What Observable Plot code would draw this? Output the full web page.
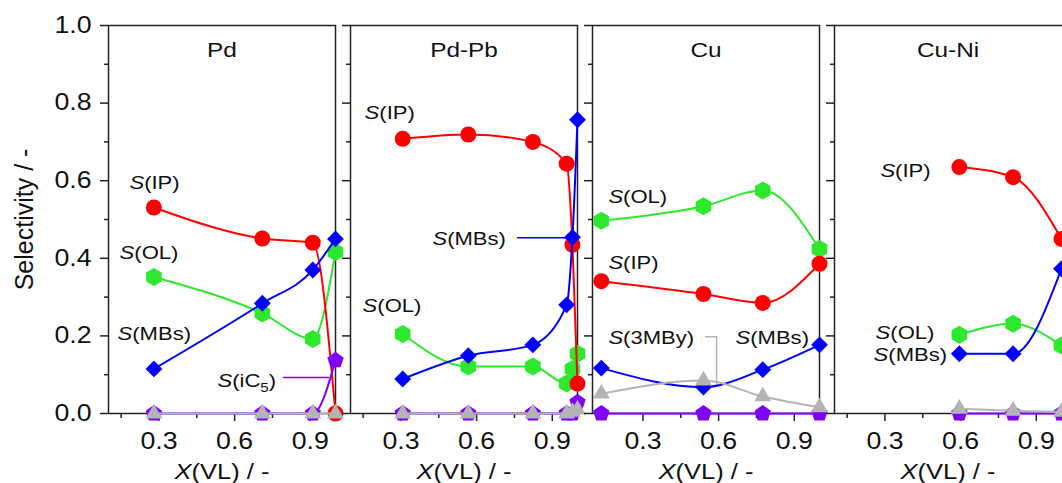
<!DOCTYPE html>
<html>
<head>
<meta charset="utf-8">
<script src="https://cdn.jsdelivr.net/npm/d3@7"></script>
<script src="https://cdn.jsdelivr.net/npm/@observablehq/plot@0.6"></script>
<style>
  html, body { margin: 0; padding: 0; background: #fff; overflow: hidden; }
  #row { display: flex; flex-direction: row; width: 1100px; }
  #row svg { display: block; flex: none; }
</style>
</head>
<body>
<div id="row"></div>
<script>
// ---------------- data ----------------
const panelNames = ["Pd", "Pd-Pb", "Cu", "Cu-Ni"];
const seriesNames = ["S(OL)", "S(IP)", "S(MBs)", "S(iC5)", "S(3MBy)"];

// X(VL) of each catalyst
const xPd   = [0.28, 0.71, 0.91, 1.0];
const xPdPb = [0.307, 0.567, 0.823, 0.957, 0.98, 1.0];
const xCu   = [0.135, 0.54, 0.775, 1.0];
const xCuNi = [0.595, 0.808, 1.0];

// Pd
const pdOL   = [0.352, 0.258, 0.192, 0.416];
const pdIP   = [0.531, 0.451, 0.440, 0.0];
const pdMBs  = [0.115, 0.284, 0.370, 0.450];
const pdIC5  = [0.0, 0.0, 0.0, 0.137];
const pd3MBy = [0.0, 0.0, 0.0, 0.0];
// Pd-Pb
const pdpbOL   = [0.205, 0.121, 0.121, 0.077, 0.115, 0.154];
const pdpbIP   = [0.708, 0.719, 0.700, 0.644, 0.435, 0.077];
const pdpbMBs  = [0.089, 0.149, 0.177, 0.280, 0.454, 0.757];
const pdpbIC5  = [0.0, 0.0, 0.0, 0.0, 0.0, 0.029];
const pdpb3MBy = [0.0, 0.0, 0.0, 0.0, 0.004, 0.010];
// Cu
const cuOL   = [0.497, 0.534, 0.575, 0.424];
const cuIP   = [0.341, 0.308, 0.285, 0.386];
const cuMBs  = [0.117, 0.068, 0.113, 0.177];
const cuIC5  = [0.0, 0.0, 0.0, 0.0];
const cu3MBy = [0.051, 0.085, 0.044, 0.016];
// Cu-Ni
const cuniOL   = [0.203, 0.231, 0.175];
const cuniIP   = [0.635, 0.609, 0.450];
const cuniMBs  = [0.154, 0.154, 0.373];
const cuniIC5  = [0.0, 0.0, 0.0];
const cuni3MBy = [0.012, 0.007, 0.004];

// axis ticks
const yMajor = [0, 0.2, 0.4, 0.6, 0.8, 1.0];
const yMinor = [0.1, 0.3, 0.5, 0.7, 0.9];
const xMajor = [0.3, 0.6, 0.9];
const xMinor = [0.15, 0.45, 0.75];

// annotations (data coordinates)
const annPanel = ["Pd", "Pd", "Pd", "Pd", "Pd-Pb", "Pd-Pb", "Pd-Pb", "Cu", "Cu", "Cu", "Cu", "Cu-Ni", "Cu-Ni", "Cu-Ni"];
const annText  = ["S(IP)", "S(OL)", "S(MBs)", "S(iC5)", "S(IP)", "S(MBs)", "S(OL)", "S(OL)", "S(IP)", "S(3MBy)", "S(MBs)", "S(IP)", "S(OL)", "S(MBs)"];
const annX     = [0.183, 0.144, 0.136, 0.532, 0.156, 0.425, 0.148, 0.163, 0.163, 0.163, 0.667, 0.282, 0.263, 0.255];
const annY     = [0.595, 0.415, 0.206, 0.085, 0.776, 0.451, 0.278, 0.559, 0.389, 0.196, 0.196, 0.626, 0.209, 0.152];

// leader lines (data coordinates)
const leadId    = ["a", "a", "b", "b", "c", "c", "c"];
const leadPanel = ["Pd", "Pd", "Pd-Pb", "Pd-Pb", "Cu", "Cu", "Cu"];
const leadSer   = ["S(iC5)", "S(iC5)", "S(MBs)", "S(MBs)", "S(3MBy)", "S(3MBy)", "S(3MBy)"];
const leadX     = [0.794, 0.972, 0.762, 0.99, 0.548, 0.592, 0.592];
const leadY     = [0.093, 0.093, 0.453, 0.453, 0.198, 0.198, 0.07];

// ---------------- build tables ----------------
const panelX = {"Pd": xPd, "Pd-Pb": xPdPb, "Cu": xCu, "Cu-Ni": xCuNi};
const panelY = {
  "Pd":    [pdOL, pdIP, pdMBs, pdIC5, pd3MBy],
  "Pd-Pb": [pdpbOL, pdpbIP, pdpbMBs, pdpbIC5, pdpb3MBy],
  "Cu":    [cuOL, cuIP, cuMBs, cuIC5, cu3MBy],
  "Cu-Ni": [cuniOL, cuniIP, cuniMBs, cuniIC5, cuni3MBy]
};
const rows = [];
for (const p of panelNames) {
  panelY[p].forEach((ys, si) => {
    ys.forEach((v, k) => rows.push({panel: p, series: seriesNames[si], x: panelX[p][k], y: v}));
  });
}
const anns = annText.map((t, i) => ({panel: annPanel[i], text: t, x: annX[i], y: annY[i]}));
const leads = leadX.map((x, i) => ({id: leadId[i], panel: leadPanel[i], series: leadSer[i], x, y: leadY[i]}));

// ---------------- symbols & styles ----------------
function polygon(n, rot, scale) {
  return {
    draw(ctx, size) {
      const R = Math.sqrt(size / Math.PI) * scale;
      for (let i = 0; i < n; i++) {
        const a = rot + i * 2 * Math.PI / n;
        const px = R * Math.cos(a), py = R * Math.sin(a);
        if (i === 0) ctx.moveTo(px, py); else ctx.lineTo(px, py);
      }
      ctx.closePath();
    }
  };
}
const hexagon  = polygon(6, -Math.PI / 2, 1.0);
const pentagon = polygon(5, -Math.PI / 2, 1.0);
const triangle = polygon(3, -Math.PI / 2, 1.0);

const style = {
  "S(OL)":   {color: "#2ee82e", symbol: hexagon,   r: 9},
  "S(IP)":   {color: "#ff0000", symbol: "circle",  r: 8},
  "S(MBs)":  {color: "#0000ff", symbol: "diamond2", r: 7.6},
  "S(iC5)":  {color: "#8000ff", symbol: pentagon,  r: 8.6},
  "S(3MBy)": {color: "#b4b4b4", symbol: triangle,  r: 9.8}
};

const FONT = "Arial, 'Liberation Sans', Helvetica, sans-serif";
const SVGNS = "http://www.w3.org/2000/svg";
const STRETCH = 1.16; // horizontal text stretch of the original figure

function richText(svg) {
  svg.querySelectorAll("text").forEach(t => {
    const s = t.textContent;
    const m = /^([SX])(\(.*)$/.exec(s);
    if (!m) return;
    while (t.firstChild) t.removeChild(t.firstChild);
    const it = document.createElementNS(SVGNS, "tspan");
    it.setAttribute("font-style", "italic");
    it.textContent = m[1];
    t.appendChild(it);
    const sub = /^(.*C)(\d+)(.*)$/.exec(m[2]);
    if (sub) {
      const a = document.createElementNS(SVGNS, "tspan");
      a.textContent = sub[1];
      const b = document.createElementNS(SVGNS, "tspan");
      b.setAttribute("font-size", "13px");
      b.setAttribute("dy", "5");
      b.textContent = sub[2];
      const c = document.createElementNS(SVGNS, "tspan");
      c.setAttribute("dy", "-5");
      c.textContent = sub[3];
      t.appendChild(a); t.appendChild(b); t.appendChild(c);
    } else {
      const a = document.createElementNS(SVGNS, "tspan");
      a.textContent = m[2];
      t.appendChild(a);
    }
  });
}

function stretchText(svg) {
  svg.querySelectorAll("text").forEach(t => {
    if ((t.getAttribute("transform") || "").includes("rotate")) return;
    if ((t.parentNode.getAttribute("transform") || "").includes("rotate")) return;
    const len = t.getComputedTextLength();
    if (len > 0) {
      t.setAttribute("textLength", (len * STRETCH).toFixed(2));
      t.setAttribute("lengthAdjust", "spacingAndGlyphs");
    }
  });
}

// ---------------- plots ----------------
const row = document.getElementById("row");
panelNames.forEach((p, i) => {
  const first = i === 0, last = i === panelNames.length - 1;
  const ml = first ? 108 : 15;
  const marks = [];
  if (last) {
    marks.push(Plot.frame({anchor: "top", stroke: "#222", strokeWidth: 1.5}));
    marks.push(Plot.frame({anchor: "left", stroke: "#222", strokeWidth: 1.5}));
    marks.push(Plot.frame({anchor: "bottom", stroke: "#222", strokeWidth: 1.5}));
  } else {
    marks.push(Plot.frame({stroke: "#222", strokeWidth: 1.5}));
  }
  marks.push(
    Plot.axisY({ticks: yMajor, tickSize: 8, tickPadding: 9, strokeWidth: 1.5, stroke: "#222",
                label: null, tickFormat: ".1f", fontSize: 23, fill: first ? "#111" : "none"}),
    Plot.axisY({ticks: yMinor, tickSize: 4, strokeWidth: 1.5, stroke: "#222", label: null, fill: "none"}),
    Plot.axisX({ticks: xMajor, tickSize: 8, tickPadding: 11, strokeWidth: 1.5, stroke: "#222",
                label: null, tickFormat: ".1f", fontSize: 23, fill: "#111"}),
    Plot.axisX({ticks: xMinor, tickSize: 5, strokeWidth: 1.5, stroke: "#222", label: null, fill: "none"})
  );
  // leader lines
  for (const id of ["a", "b", "c"]) {
    const seg = leads.filter(d => d.panel === p && d.id === id);
    if (seg.length) marks.push(Plot.line(seg, {x: "x", y: "y", stroke: style[seg[0].series].color, strokeWidth: 1.5}));
  }
  // series
  for (const s of seriesNames) {
    const data = rows.filter(d => d.panel === p && d.series === s);
    const st = style[s];
    marks.push(Plot.line(data, {x: "x", y: "y", stroke: st.color, strokeWidth: 2, curve: "monotone-x"}));
    marks.push(Plot.dot(data, {x: "x", y: "y", fill: st.color, stroke: "none", symbol: st.symbol, r: st.r}));
  }
  // annotations
  marks.push(Plot.text(anns.filter(d => d.panel === p), {x: "x", y: "y", text: "text", textAnchor: "start",
                                                         fontSize: 19, fill: "#111"}));
  // panel title
  marks.push(Plot.text([p], {text: d => d, frameAnchor: "top", lineAnchor: "middle", textAnchor: "middle",
                             dy: 25, fontSize: 21, fill: "#111"}));
  // x axis label
  marks.push(Plot.text(["X(VL) / -"], {text: d => d, frameAnchor: "bottom", lineAnchor: "middle", textAnchor: "middle",
                                       dy: 58, fontSize: 22, fill: "#111"}));
  if (first) {
    marks.push(Plot.text(["Selectivity / -"], {text: d => d, frameAnchor: "left", rotate: -90, lineAnchor: "middle",
                                               textAnchor: "middle", dx: -84, fontSize: 25, fill: "#111"}));
  }
  const svg = Plot.plot({
    width: ml + 227,
    height: 483,
    marginLeft: ml,
    marginRight: 0,
    marginTop: 25,
    marginBottom: 70,
    x: {domain: [0.1, 1.0]},
    y: {domain: [0, 1]},
    style: {fontFamily: FONT, color: "#111", background: "transparent", overflow: "visible"},
    marks
  });
  richText(svg);
  row.appendChild(svg);
  stretchText(svg);
});
</script>
</body>
</html>
